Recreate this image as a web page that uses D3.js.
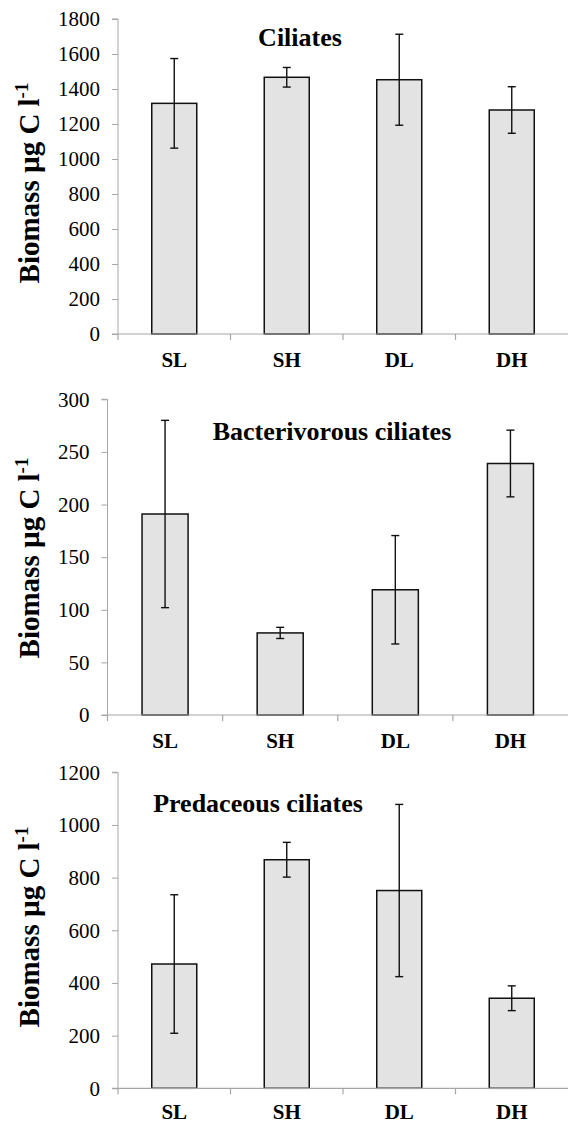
<!DOCTYPE html>
<html>
<head>
<meta charset="utf-8">
<script src="https://cdnjs.cloudflare.com/ajax/libs/d3/7.8.5/d3.min.js"></script>
<style>
  html, body { margin: 0; padding: 0; background: #fff; }
  svg { display: block; }
  svg text { font-family: "Liberation Serif", "DejaVu Serif", "Times New Roman", Times, serif; }
</style>
</head>
<body>
<svg id="chart" width="568" height="1124"></svg>
<script>
// ---- data ----
const categories = ["SL", "SH", "DL", "DH"];

const ciliatesTitle = "Ciliates";
const ciliatesMean = [1318, 1467, 1453, 1280];
const ciliatesErr = [256, 56, 260, 133];
const ciliatesTicks = [0, 200, 400, 600, 800, 1000, 1200, 1400, 1600, 1800];

const bactTitle = "Bacterivorous ciliates";
const bactMean = [191, 78, 119, 239];
const bactErr = [89, 5.3, 51.5, 31.7];
const bactTicks = [0, 50, 100, 150, 200, 250, 300];

const predTitle = "Predaceous ciliates";
const predMean = [472, 868, 751, 342];
const predErr = [263, 66, 327, 47];
const predTicks = [0, 200, 400, 600, 800, 1000, 1200];

const yLabelMain = "Biomass µg C l";
const yLabelSup = "-1";

// ---- layout ----
const panels = [
  { title: ciliatesTitle, mean: ciliatesMean, err: ciliatesErr, ticks: ciliatesTicks,
    x0: 118, x1: 568, yTop: 19, yBot: 334, titleX: 300, titleY: 46, labelY: 183, catY: 33 },
  { title: bactTitle, mean: bactMean, err: bactErr, ticks: bactTicks,
    x0: 107.5, x1: 568, yTop: 399.3, yBot: 715, titleX: 332, titleY: 440, labelY: 558, catY: 33 },
  { title: predTitle, mean: predMean, err: predErr, ticks: predTicks,
    x0: 118, x1: 568, yTop: 772.3, yBot: 1088.3, titleX: 258, titleY: 812, labelY: 927, catY: 31 }
];

const svg = d3.select("#chart");
const FONT = "'Liberation Serif', 'DejaVu Serif', 'Times New Roman', serif";
const AXIS_COLOR = "#a6a6a6";

panels.forEach(p => {
  const g = svg.append("g");
  const x = d3.scaleBand().domain(categories).range([p.x0, p.x1]).paddingInner(0.6).paddingOuter(0.3);
  const xb = d3.scaleBand().domain(categories).range([p.x0, p.x1]);
  const y = d3.scaleLinear().domain([0, d3.max(p.ticks)]).range([p.yBot, p.yTop]);

  // y axis
  const yAxis = d3.axisLeft(y).tickValues(p.ticks).tickSize(6).tickPadding(12).tickFormat(d3.format("d"));
  const ya = g.append("g").attr("transform", `translate(${p.x0},0)`).call(yAxis)
    .attr("font-family", FONT).attr("font-size", 21);
  ya.select(".domain").attr("stroke", AXIS_COLOR).attr("d", `M-6,${p.yTop}H0V${p.yBot}`);
  ya.selectAll(".tick line").attr("stroke", AXIS_COLOR);
  ya.selectAll(".tick text").attr("fill", "#000").attr("font-family", FONT).attr("font-size", 21);

  // bars
  g.selectAll("rect.bar").data(categories).join("rect")
    .attr("class", "bar")
    .attr("x", (d) => x(d))
    .attr("width", x.bandwidth())
    .attr("y", (d, i) => y(p.mean[i]))
    .attr("height", (d, i) => y(0) - y(p.mean[i]))
    .attr("fill", "#e3e3e3")
    .attr("stroke", "#111")
    .attr("stroke-width", 1.5);

  // x axis (drawn after bars so gray baseline sits on top)
  const xa = g.append("g").attr("transform", `translate(0,${p.yBot})`);
  xa.append("line").attr("x1", p.x0 - 6).attr("x2", p.x1).attr("y1", 0).attr("y2", 0)
    .attr("stroke", AXIS_COLOR).attr("stroke-width", 1.2);
  const bounds = categories.map(c => xb(c));
  xa.selectAll("line.tk").data(bounds).join("line").attr("class", "tk")
    .attr("x1", d => d).attr("x2", d => d).attr("y1", 0).attr("y2", 6)
    .attr("stroke", AXIS_COLOR).attr("stroke-width", 1.2);
  xa.selectAll("text").data(categories).join("text")
    .attr("x", d => xb(d) + xb.bandwidth() / 2)
    .attr("y", p.catY)
    .attr("text-anchor", "middle")
    .attr("font-family", FONT).attr("font-size", 21).attr("font-weight", "bold")
    .text(d => d);

  // error bars
  const eb = g.append("g").attr("stroke", "#111").attr("stroke-width", 1.4);
  categories.forEach((c, i) => {
    const cx = x(c) + x.bandwidth() / 2;
    const hi = y(p.mean[i] + p.err[i]);
    const lo = y(p.mean[i] - p.err[i]);
    eb.append("line").attr("x1", cx).attr("x2", cx).attr("y1", hi).attr("y2", lo);
    eb.append("line").attr("x1", cx - 4).attr("x2", cx + 4).attr("y1", hi).attr("y2", hi);
    eb.append("line").attr("x1", cx - 4).attr("x2", cx + 4).attr("y1", lo).attr("y2", lo);
  });

  // title
  g.append("text").attr("x", p.titleX).attr("y", p.titleY).attr("text-anchor", "middle")
    .attr("font-family", FONT).attr("font-size", 26).attr("font-weight", "bold")
    .text(p.title);

  // y label
  const yl = g.append("text")
    .attr("transform", `translate(39,${p.labelY}) rotate(-90)`)
    .attr("text-anchor", "middle")
    .attr("font-family", FONT).attr("font-size", 29).attr("font-weight", "bold");
  yl.append("tspan").text(yLabelMain);
  yl.append("tspan").attr("dy", -11).attr("font-size", 19).text(yLabelSup);
});
</script>
</body>
</html>
